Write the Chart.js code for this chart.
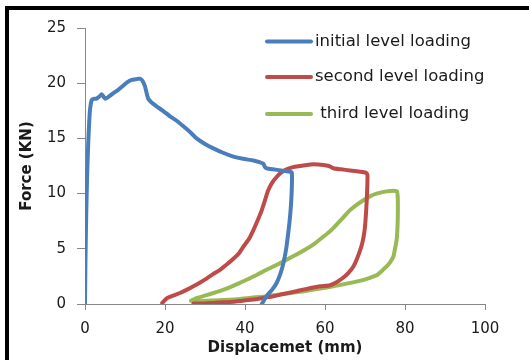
<!DOCTYPE html>
<html>
<head>
<meta charset="utf-8">
<script src="https://cdn.jsdelivr.net/npm/chart.js@4"></script>
<style>
    html, body { margin: 0; padding: 0; background: #fff; overflow: hidden; }
    canvas { display: block; }
</style>
</head>
<body>
<canvas id="chart" width="529" height="360"></canvas>
<script>
        // Series (displacement mm, force kN)
        const initialX = [0, 0.1, 0.3, 0.5, 0.8, 1.25, 1.7, 2.3, 2.9, 3.6, 4.2, 5.0, 6.0, 7.1, 8.3, 9.6, 10.6, 11.7, 12.6, 13.3, 13.8, 14.4, 15.0, 15.8, 16.8, 17.9, 19.5, 21.25, 22.9, 24.6, 26.2, 27.9, 30.0, 32.1, 34.5, 37.1, 39.5, 42.1, 43.6, 44.6, 45.0, 45.4, 47.0, 49.0, 51.0, 51.7, 51.7, 51.5, 51.2, 50.8, 50.3, 49.6, 48.9, 47.9, 46.8, 45.8, 45.0, 44.2];
        const initialY = [0, 3.5, 8, 11.2, 14.5, 17.6, 18.5, 18.6, 18.6, 18.8, 19.0, 18.6, 18.8, 19.1, 19.4, 19.8, 20.1, 20.3, 20.35, 20.4, 20.4, 20.2, 19.7, 18.6, 18.2, 17.9, 17.5, 17.0, 16.6, 16.1, 15.6, 15.0, 14.5, 14.1, 13.7, 13.35, 13.15, 13.0, 12.85, 12.7, 12.4, 12.3, 12.2, 12.1, 12.0, 11.9, 10.5, 9.0, 7.7, 6.4, 5.0, 3.7, 2.8, 1.9, 1.3, 0.9, 0.5, 0];

        const secondX = [19.3, 20.4, 22.0, 23.75, 25.5, 27.1, 28.8, 30.4, 32.0, 33.75, 35.5, 37.1, 38.5, 39.6, 41.0, 42.1, 43.2, 44.2, 45.0, 45.8, 46.8, 47.9, 49.0, 50.4, 52.0, 53.75, 55.5, 57.1, 59.6, 61.0, 62.1, 64.0, 66.25, 68.5, 70.2, 70.6, 70.6, 70.5, 70.3, 70.0, 69.6, 69.0, 68.1, 67.1, 65.8, 64.6, 63.0, 61.25, 59.0, 57.1, 54.5, 52.1, 49.5, 47.1, 44.5, 42.1, 39.5, 37.1, 34.5, 32.1, 29.5, 27.1];
        const secondY = [0.1, 0.5, 0.75, 1.0, 1.3, 1.6, 1.95, 2.3, 2.7, 3.1, 3.6, 4.1, 4.6, 5.2, 5.9, 6.7, 7.6, 8.5, 9.4, 10.3, 11.0, 11.5, 11.9, 12.2, 12.4, 12.5, 12.6, 12.65, 12.6, 12.5, 12.3, 12.2, 12.1, 12.0, 11.9, 11.7, 11.0, 9.9, 8.5, 7.0, 6.0, 5.1, 4.2, 3.4, 2.8, 2.4, 2.0, 1.7, 1.6, 1.5, 1.3, 1.1, 0.9, 0.7, 0.55, 0.4, 0.3, 0.2, 0.15, 0.1, 0.05, 0.05];

        const thirdX = [26.5, 28.0, 30.4, 33.0, 35.4, 38.0, 40.4, 43.0, 45.4, 48.0, 50.4, 53.0, 55.4, 57.5, 59.6, 61.3, 62.9, 64.6, 66.25, 68.0, 69.6, 71.2, 72.9, 75.4, 77.2, 78.0, 78.2, 78.2, 78.1, 77.9, 77.5, 77.1, 76.3, 75.4, 74.2, 72.9, 71.0, 68.75, 65.5, 62.1, 58.0, 53.75, 49.5, 45.4, 41.0, 37.1, 33.5, 30.4, 28.5, 27.1];
        const thirdY = [0.3, 0.55, 0.8, 1.1, 1.4, 1.8, 2.2, 2.65, 3.1, 3.55, 4.0, 4.5, 5.0, 5.5, 6.1, 6.6, 7.2, 7.85, 8.5, 9.0, 9.4, 9.75, 10.0, 10.2, 10.25, 10.2, 9.5, 7.9, 6.8, 5.8, 5.0, 4.3, 3.8, 3.4, 3.0, 2.6, 2.35, 2.1, 1.85, 1.6, 1.35, 1.1, 0.9, 0.7, 0.55, 0.4, 0.35, 0.3, 0.25, 0.25];

        const seriesLabels = ['initial level loading', 'second level loading', ' third level loading'];
        const seriesColors = ['#4a7ebb', '#be4b48', '#98b954'];

        function toPoints(xs, ys) {
            return xs.map((x, i) => ({ x: x, y: ys[i] }));
        }

        // White page with the thick black frame on the left and top
        const frame = {
            id: 'frame',
            beforeDraw(chart) {
                const c = chart.ctx;
                c.save();
                c.fillStyle = '#fff';
                c.fillRect(0, 0, chart.width, chart.height);
                c.fillStyle = '#000';
                c.fillRect(5, 6, chart.width, 4);
                c.fillRect(5, 6, 4, chart.height);
                c.restore();
            }
        };

        // Legend drawn inside the plot, one line per row
        const insideLegend = {
            id: 'insideLegend',
            afterDraw(chart) {
                const c = chart.ctx;
                const rows = [41.5, 77, 114];
                c.save();
                c.font = '16.5px "DejaVu Sans"';
                c.textBaseline = 'middle';
                c.fillStyle = '#1a1a1a';
                rows.forEach((y, i) => {
                    c.strokeStyle = seriesColors[i];
                    c.lineWidth = 4;
                    c.lineCap = 'round';
                    c.beginPath();
                    c.moveTo(267, y);
                    c.lineTo(311, y);
                    c.stroke();
                    c.fillText(seriesLabels[i], 315, y);
                });
                c.restore();
            }
        };

        const ctx = document.getElementById('chart').getContext('2d');
        const chart = new Chart(ctx, {
            type: 'scatter',
            data: {
                datasets: [
                    { label: seriesLabels[0], data: toPoints(initialX, initialY) },
                    { label: seriesLabels[1], data: toPoints(secondX, secondY) },
                    { label: seriesLabels[2], data: toPoints(thirdX, thirdY) }
                ].map((d, i) => Object.assign(d, {
                    showLine: true,
                    borderColor: seriesColors[i],
                    backgroundColor: seriesColors[i],
                    borderWidth: 4,
                    pointRadius: 0,
                    tension: 0.2,
                    borderJoinStyle: 'round',
                    borderCapStyle: 'round'
                }))
            },
            options: {
                responsive: false,
                animation: false,
                layout: {
                    padding: { left: 0, top: 28, right: 44, bottom: 0 }
                },
                plugins: {
                    legend: { display: false },
                    tooltip: { enabled: false }
                },
                scales: {
                    x: {
                        type: 'linear',
                        min: 0,
                        max: 100,
                        afterFit(scale) { scale.height = 56; },
                        ticks: {
                            stepSize: 20,
                            padding: 10,
                            color: '#1a1a1a',
                            font: { family: 'DejaVu Sans', size: 15 }
                        },
                        grid: { drawOnChartArea: false, tickLength: 6, color: '#888' },
                        border: { color: '#888' },
                        title: {
                            display: true,
                            text: 'Displacemet (mm)',
                            color: '#1a1a1a',
                            padding: { top: 0, bottom: 3 },
                            font: { family: 'DejaVu Sans', size: 15, weight: 'bold' }
                        }
                    },
                    y: {
                        min: 0,
                        max: 25,
                        afterFit(scale) { scale.width = 85; },
                        ticks: {
                            stepSize: 5,
                            padding: 11,
                            color: '#1a1a1a',
                            font: { family: 'DejaVu Sans', size: 15 }
                        },
                        grid: { drawOnChartArea: false, tickLength: 8, color: '#888' },
                        border: { color: '#888' },
                        title: {
                            display: true,
                            text: 'Force (KN)',
                            color: '#1a1a1a',
                            padding: { top: 18, bottom: 0 },
                            font: { family: 'DejaVu Sans', size: 15, weight: 'bold' }
                        }
                    }
                }
            },
            plugins: [frame, insideLegend]
        });
</script>
</body>
</html>
